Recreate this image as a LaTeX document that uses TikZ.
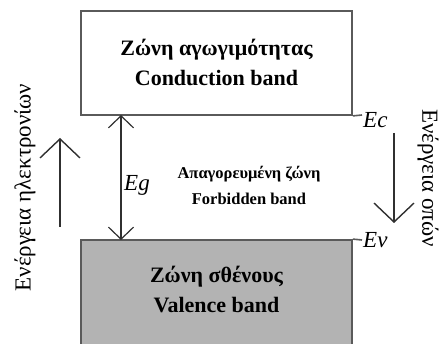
\documentclass[tikz,border=0pt]{standalone}
\usepackage{fontspec}
\setmainfont{Liberation Serif}
\usetikzlibrary{arrows.meta}
\definecolor{bandline}{HTML}{5A5A5A}
\definecolor{bandfill}{HTML}{B3B3B3}
\definecolor{arrowline}{HTML}{303030}
\tikzset{
  band/.style={draw=bandline, line width=1.8pt, rectangle, inner sep=0pt},
  bandtext/.style={font=\bfseries\fontsize{22}{30}\selectfont, align=center, inner sep=0pt},
  gaptext/.style={font=\bfseries\fontsize{16.5}{26}\selectfont, align=center, inner sep=0pt},
  level/.style={font=\itshape\fontsize{23}{23}\selectfont, anchor=west, inner sep=0pt},
  sidetext/.style={font=\fontsize{23}{23}\selectfont, inner sep=0pt},
  bigarrow/.style={draw=arrowline, line width=1.4pt, -{Straight Barb[length=19pt, width=40pt, line width=1.4pt]}},
  gaparrow/.style={draw=arrowline, line width=1.2pt, {Straight Barb[length=12pt, width=25pt, line width=1.2pt]}-{Straight Barb[length=12pt, width=25pt, line width=1.2pt]}},
  tick/.style={draw=bandline, line width=1.6pt}
}
\begin{document}
\begin{tikzpicture}[x=1pt, y=-1pt]
  \useasboundingbox (0,0) rectangle (444,344);
  \clip (0,0) rectangle (444,344);

  % conduction band
  \node[band, minimum width=271pt, minimum height=104pt, fill=white] (cb) at (216.5,63) {};
  \node[bandtext] (cbt) at (216.5,62.5) {Ζώνη αγωγιμότητας\\Conduction band};

  % valence band (continues below the lower edge)
  \node[band, minimum width=271pt, minimum height=140pt, fill=bandfill] (vb) at (216.5,310) {};
  \node[bandtext] (vbt) at (216.5,289.5) {Ζώνη σθένους\\Valence band};

  % band edges and their labels
  \coordinate (ecend) at (362,115);
  \coordinate (evend) at (362,240);
  \draw[tick] (cb.south east) -- (ecend);
  \draw[tick] (vb.north east) -- (evend);
  \node[level] (ec) at (363,120) {Ec};
  \node[level] (ev) at (363,240) {Ev};

  % band gap
  \coordinate (gtop) at (121,115);
  \coordinate (gbot) at (121,240);
  \draw[gaparrow] (gtop) -- (gbot);
  \node[font=\itshape\fontsize{23}{23}\selectfont, anchor=west, inner sep=0pt] (eg) at (124,185) {Eg};
  \node[gaptext] (fb) at (249,185) {Απαγορευμένη ζώνη\\Forbidden band};

  % electron energy (upwards)
  \coordinate (ebot) at (60,227);
  \coordinate (etop) at (60,138);
  \draw[bigarrow] (ebot) -- (etop);
  \node[sidetext, rotate=90] (el) at (25,187.5) {Ενέργεια ηλεκτρονίων};

  % hole energy (downwards)
  \coordinate (htop) at (394,133);
  \coordinate (hbot) at (394,223);
  \draw[bigarrow] (htop) -- (hbot);
  \node[sidetext, rotate=-90] (hl) at (428,178) {Ενέργεια οπών};
\end{tikzpicture}
\end{document}
